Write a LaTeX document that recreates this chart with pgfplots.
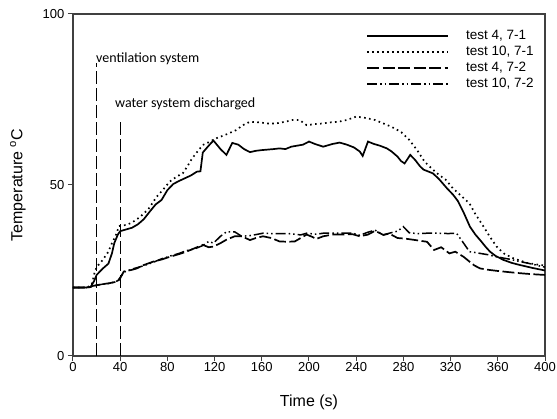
\documentclass[border=0pt]{standalone}
\usepackage{pgfplots}
\pgfplotsset{compat=1.18}
\usepackage{fontspec}
\setmainfont{Liberation Sans}
\newfontfamily\carlito{Carlito}

\begin{document}
\begin{tikzpicture}
\path[use as bounding box] (-73pt,-63pt) rectangle (484pt,356pt);
\begin{axis}[
  at={(0,0)}, anchor=south west,
  scale only axis, width=472pt, height=342pt,
  xmin=0, xmax=400, ymin=0, ymax=100,
  xtick={0,40,...,400}, ytick={0,50,100},
  tick pos=left, tick align=outside, major tick length=5pt,
  axis line style={black!75, line width=1.1pt},
  every tick/.style={black!75, line width=1pt},
  /pgf/number format/assume math mode=true,
  ticklabel style={font=\fontsize{13}{15}\selectfont},
  xticklabel style={inner sep=1.5pt},
  yticklabel style={inner sep=3.5pt},
  xlabel={Time (s)},
  ylabel={Temperature \textsuperscript{o}C},
  label style={font=\fontsize{16}{18}\selectfont},
  xlabel style={at={(axis description cs:0.5,-0.1345)}, anchor=center},
  ylabel style={at={(axis description cs:-0.1165,0.5)}, anchor=center},
  legend style={at={(axis description cs:0.6208,0.955)}, anchor=north west,
    draw=none, fill=none, inner sep=0pt, row sep=3pt, column sep=17pt,
    font=\fontsize{13.5}{15}\selectfont,
    nodes={inner sep=0pt, text height=10pt, text depth=3pt}},
  legend cell align=left,
  legend image code/.code={\draw[#1, line width=2pt] (0pt,0pt) -- (81pt,0pt);},
  clip=false,
]
\addplot[black, line width=1.7pt] coordinates {
(0,20) (10,20) (15,20.2) (18,22) (20,23.7) (25,25.5) (30,27) (33,30) (35,33) (38,35.5) (40,36.5)
(45,37) (50,37.5) (55,38.5) (60,40) (65,42.2) (70,44.3) (75,45.6) (80,48.5) (85,50.3) (90,51.2)
(95,52) (100,52.8) (105,53.9) (108,54) (110,59.5) (115,61.5) (119,63) (125,60.5) (130,58.8)
(135,62.3) (140,61.8) (145,60.5) (150,59.6) (155,60) (160,60.2) (170,60.5) (175,60.7) (180,60.5)
(185,61.2) (190,61.5) (195,61.8) (200,62.7) (205,62) (212,61.2) (220,62) (226,62.4) (232,61.8)
(238,61) (243,59.8) (245.5,58.5) (250,62.7) (255,62) (260,61.5) (266,60.7) (270,59.8) (275,58.3)
(278,57) (281,56.3) (285.8,58.8) (290,57.3) (294,55.5) (297,54.5) (305,53.4) (310,51.8) (317,49)
(322,47.2) (326,45.4) (331,42) (336.4,37.8) (341,35.5) (345,33.9) (350,31.8) (353.4,30.5) (358,29.3)
(364.7,28.1) (372,27.2) (378.8,26.6) (390,25.7) (398.6,25.1) (400,25)
};
\addlegendentry{test 4, 7-1}
\addplot[black, line width=1.7pt, dash pattern=on 1.6pt off 3.4pt] coordinates {
(0,20) (12,20) (16,21) (18,24) (20,26) (25,28) (30,30.5) (33,33) (36,35) (39,38) (42,38.2)
(45,38.3) (50,39) (57,40.7) (64,43) (71,46.6) (76,48.5) (82,51) (88,52.5) (93,53.4) (97,55.5)
(101,57.8) (106,60) (110,61.7) (115,62.5) (121,63.6) (130,64.8) (138,66) (144,67.5) (150,68.5)
(158,68.3) (165,68) (172,68) (180,68.5) (186,69) (192,69) (198,67.5) (205,67.8) (212,68) (218,68.3)
(225,68.5) (232,69) (240,70) (248,69.6) (256,69) (263,68) (270,67) (278,65.5) (285,63.2) (292,60)
(298,56.8) (305,54.5) (310,53) (316,51.5) (322,49) (330,46.5) (336,44.6) (341,41.5) (348,37.8)
(353,35) (359,32) (365,30) (373,28.6) (385,27.2) (396,26.6) (400,26.5)
};
\addlegendentry{test 10, 7-1}
\addplot[black, line width=1.7pt, dash pattern=on 12pt off 3.5pt] coordinates {
(0,20) (13,20) (17,20.5) (25,21) (31,21.3) (38,21.8) (40,22.7) (43,24.7) (50,25.2) (54,25.6)
(60,26.6) (68,27.6) (75,28.2) (82,29) (90,29.8) (96,30.5) (103,31.5) (110,32.5) (115,31.8) (119,32)
(125,33) (130,34) (137,35) (143,35) (150,33.9) (155,34.5) (161,35) (168,34.5) (175,33.5) (182,33.4)
(188,33.5) (193,34.5) (198,35.5) (203,34.8) (206,34.2) (212,35) (220,35.5) (228,35.5) (237,35.6)
(243,35) (250,35.5) (256,36.6) (263,35.4) (268,35.8) (275,34.5) (282,34.3) (288,34) (292,33.8)
(300,33.4) (306,31) (312,31.8) (319,30) (324,30.5) (331,29) (336,27.6) (340,26.5) (345,25.6)
(352,25.2) (359,24.9) (370,24.5) (379,24.2) (390,23.9) (400,23.7)
};
\addlegendentry{test 4, 7-2}
\addplot[black, line width=1.5pt, dash pattern=on 10pt off 3pt on 1.5pt off 3pt on 1.5pt off 3pt] coordinates {
(0,20) (13,20) (17,20.5) (25,21) (31,21.2) (38,22) (40,23) (43,24.5) (50,25.4) (54,25.8) (60,26.4)
(68,27.4) (75,28.4) (82,29.2) (90,30) (96,30.8) (103,31.3) (110,32.3) (115,33.5) (119,33) (125,35)
(130,36.3) (137,36.3) (143,35) (150,35.2) (155,35.5) (161,35.9) (168,35.8) (175,35.8) (182,35.8)
(188,35.6) (193,35.4) (198,35.9) (206,35.6) (212,35.9) (220,35.9) (228,35.9) (237,35.9) (243,35.3)
(250,36.2) (256,36.8) (263,35.4) (268,35.9) (275,36.5) (280,37.8) (285,36) (292,35.8) (300,35.9)
(310,35.9) (318,35.8) (325,35.9) (331,33) (336,30.5) (340,30.3) (345,30) (352,29.6) (359,29)
(370,28.3) (379,27.6) (390,26.8) (398,26.1) (400,26)
};
\addlegendentry{test 10, 7-2}
\addplot[black, line width=0.8pt, dash pattern=on 13pt off 4pt, forget plot] coordinates {(20,0) (20,85.7)};
\addplot[black, line width=0.8pt, dash pattern=on 13pt off 4pt, forget plot] coordinates {(40,0) (40,69)};
\node[anchor=west, inner sep=0pt, font=\carlito\fontsize{14}{16}\selectfont] at (axis cs:19.5,87) {ventilation system};
\node[anchor=west, inner sep=0pt, font=\carlito\fontsize{14}{16}\selectfont] at (axis cs:35.6,73.7) {water system discharged};
\end{axis}
\end{tikzpicture}
\end{document}
